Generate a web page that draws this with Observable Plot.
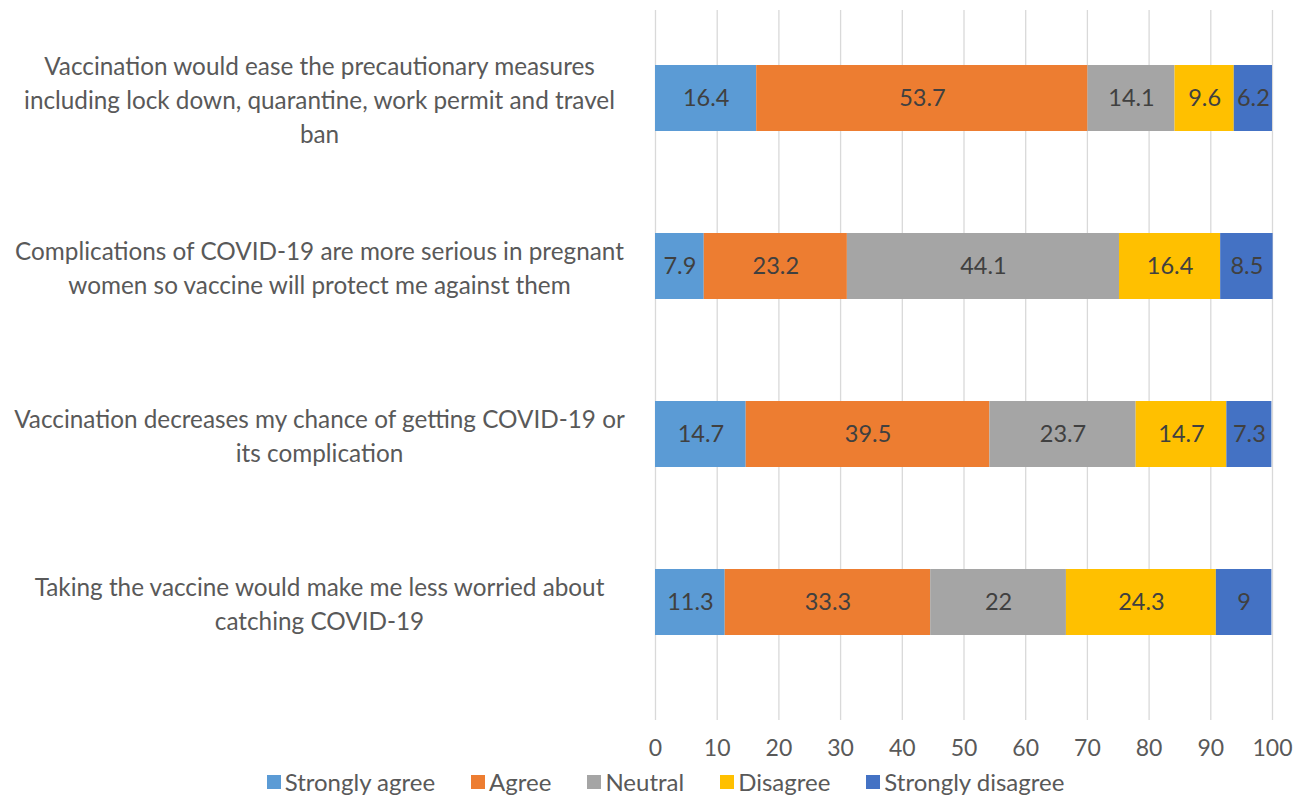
<!DOCTYPE html>
<html>
<head>
<meta charset="utf-8">
<script src="https://cdn.jsdelivr.net/npm/d3@7"></script>
<script src="https://cdn.jsdelivr.net/npm/@observablehq/plot@0.6"></script>
<style>
  body { margin: 0; background: #fff; font-family: Lato, "Open Sans", sans-serif; }
  #chart svg { display: block; }
  #legend { display: flex; justify-content: center; gap: 36px; margin-top: 2px; margin-left: 30px; font-size: 24px; color: #595959; line-height: 28px; }
  #legend .item { display: flex; align-items: center; gap: 4px; }
  #legend .sw { width: 14px; height: 14px; display: inline-block; }
</style>
</head>
<body>
<div id="chart"></div>
<div id="legend"></div>
<script>
const questions = [
  "Vaccination would ease the precautionary measures\nincluding lock down, quarantine, work permit and travel\nban",
  "Complications of COVID-19 are more serious in pregnant\nwomen so vaccine will protect me against them",
  "Vaccination decreases my chance of getting COVID-19 or\nits complication",
  "Taking the vaccine would make me less worried about\ncatching COVID-19"
];
const responses = ["Strongly agree", "Agree", "Neutral", "Disagree", "Strongly disagree"];
const colors = ["#5B9BD5", "#ED7D31", "#A5A5A5", "#FFC000", "#4472C4"];
const stronglyAgree = [16.4, 7.9, 14.7, 11.3];
const agree = [53.7, 23.2, 39.5, 33.3];
const neutral = [14.1, 44.1, 23.7, 22];
const disagree = [9.6, 16.4, 14.7, 24.3];
const stronglyDisagree = [6.2, 8.5, 7.3, 9];
const xTicks = [0, 10, 20, 30, 40, 50, 60, 70, 80, 90, 100];

const series = [stronglyAgree, agree, neutral, disagree, stronglyDisagree];
const data = [];
questions.forEach((q, i) => {
  responses.forEach((r, j) => {
    data.push({question: q, response: r, value: series[j][i]});
  });
});

const plot = Plot.plot({
  width: 1301,
  height: 766,
  marginLeft: 655,
  marginRight: 29,
  marginTop: 10,
  marginBottom: 46,
  style: {fontFamily: "Lato, 'Open Sans', sans-serif", background: "#fff"},
  x: {domain: [0, 100], ticks: xTicks},
  y: {domain: questions, range: [11.5, 687.5], paddingInner: 0.609, paddingOuter: 0.305},
  color: {domain: responses, range: colors},
  marks: [
    Plot.ruleX(xTicks, {stroke: "#D9D9D9", strokeWidth: 1.3}),
    Plot.barX(data, Plot.stackX({x: "value", y: "question", fill: "response", order: responses})),
    Plot.text(data, Plot.stackX({x: "value", y: "question", z: "response", order: responses, text: d => String(d.value), fill: "#404040", fontSize: 23.5})),
    Plot.text(questions, {x: () => 0, y: d => d, text: d => d, dx: -336, textAnchor: "middle", lineHeight: 1.4, fill: "#595959", fontSize: 24.3})
    ,
    Plot.axisX({ticks: xTicks, tickSize: 0, tickPadding: 19, fontSize: 23, color: "#595959", tickFormat: d => String(d), label: null}),
    Plot.axisY({ticks: [], label: null})
  ]
});
document.getElementById("chart").appendChild(plot);

const legend = document.getElementById("legend");
responses.forEach((r, i) => {
  const item = document.createElement("div");
  item.className = "item";
  const sw = document.createElement("span");
  sw.className = "sw";
  sw.style.background = colors[i];
  const lab = document.createElement("span");
  lab.textContent = r;
  item.appendChild(sw);
  item.appendChild(lab);
  legend.appendChild(item);
});
</script>
</body>
</html>
